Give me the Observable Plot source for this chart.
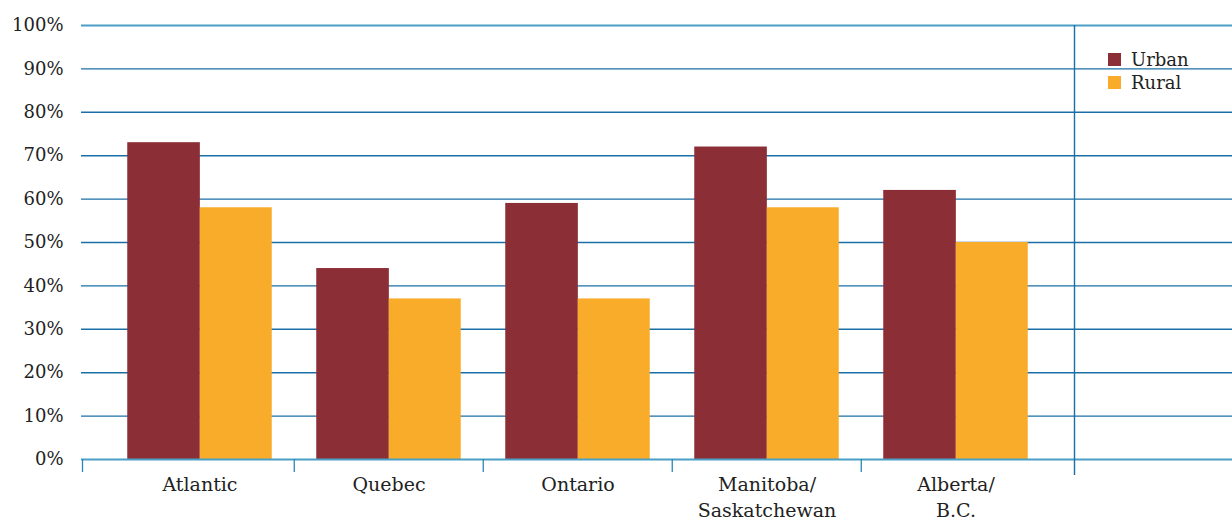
<!DOCTYPE html>
<html>
<head>
<meta charset="utf-8">
<script src="https://cdn.jsdelivr.net/npm/d3@7"></script>
<script src="https://cdn.jsdelivr.net/npm/@observablehq/plot@0.6"></script>
<style>
  html, body { margin: 0; padding: 0; background: #fff; }
  #wrap { position: relative; width: 1232px; height: 520px; }
  #legend { position: absolute; left: 1108px; top: 48.6px; font-family: "DejaVu Serif", serif; font-size: 18px; color: #222; }
  #legend div { display: flex; align-items: center; height: 22.7px; }
  #legend span.sw { display: inline-block; width: 13px; height: 13px; margin-right: 10px; }
</style>
</head>
<body>
<div id="wrap"><div id="legend"></div></div>
<script>
const regions = ["Atlantic", "Quebec", "Ontario", "Manitoba/\nSaskatchewan", "Alberta/\nB.C."];
const series = ["Urban", "Rural"];
const urban = [73, 44, 59, 72, 62];
const rural = [58, 37, 37, 58, 50];
const yTicks = [0, 10, 20, 30, 40, 50, 60, 70, 80, 90, 100];
const colors = ["#8c2e36", "#f9ac2a"];

const data = [
  ...regions.map((r, i) => ({region: r, series: "Urban", value: urban[i]})),
  ...regions.map((r, i) => ({region: r, series: "Rural", value: rural[i]}))
];

const start = 103.75, step = 189.5, barW = 72.5, outer = (step - 2 * barW) / 2;
const boundaries = regions.slice(1);

const chart = Plot.plot({
  width: 1232,
  height: 520,
  marginTop: 25,
  marginBottom: 61,
  marginLeft: 81,
  marginRight: 0,
  style: {fontFamily: "DejaVu Serif, serif", fontSize: "18px", color: "#222", background: "#fff"},
  x: {domain: regions, range: [start, start + step * regions.length], padding: 0, axis: null},
  y: {domain: [0, 100], axis: null},
  color: {domain: series, range: colors},
  marks: [
    Plot.ruleY(yTicks.filter(d => d > 0 && d < 100), {stroke: "#1a6fa6", strokeWidth: 1.4}),
    Plot.ruleY([100], {stroke: "#4a9fc7", strokeWidth: 2.2}),
    Plot.barY(data.filter(d => d.series === "Urban"), {x: "region", y: "value", fill: "series", insetLeft: outer, insetRight: step - outer - barW - 0.6}),
    Plot.barY(data.filter(d => d.series === "Rural"), {x: "region", y: "value", fill: "series", insetLeft: outer + barW, insetRight: outer}),
    Plot.ruleY([0], {stroke: "#4a9fc7", strokeWidth: 2.2}),
    Plot.ruleX(boundaries, {x: d => d, dx: -step / 2, y1: 0, y2: -3, stroke: "#2a86b8", strokeWidth: 1.3}),
    Plot.ruleX([regions[0]], {dx: -step / 2 - 22.75, y1: 0, y2: -3, stroke: "#2a86b8", strokeWidth: 1.3}),
    Plot.ruleX([regions[regions.length - 1]], {dx: step / 2 + 23.75, y1: 100, y2: -3.7, stroke: "#1a6fa6", strokeWidth: 1.4}),
    Plot.axisY(yTicks, {tickSize: 0, tickPadding: 18, tickFormat: d => d + "%", fontSize: 18, fill: "#222", label: null}),
    Plot.axisX({tickSize: 0, tickPadding: 14, fontSize: 19, fill: "#222", label: null, lineHeight: 1.33})
  ]
});

document.getElementById("wrap").prepend(chart);

const legend = document.getElementById("legend");
series.forEach((s, i) => {
  const row = document.createElement("div");
  row.innerHTML = `<span class="sw" style="background:${colors[i]}"></span>${s}`;
  legend.appendChild(row);
});
</script>
</body>
</html>
